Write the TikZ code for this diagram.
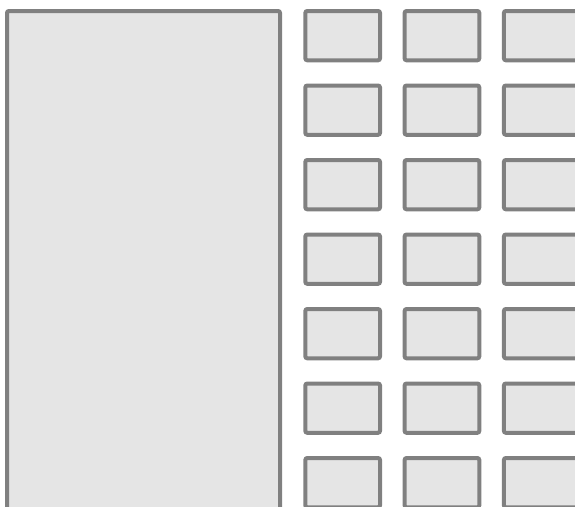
\documentclass[tikz,border=0pt]{standalone}
\definecolor{boxfill}{HTML}{E5E5E5}
\definecolor{boxline}{HTML}{808080}
\tikzset{panel/.style={draw=boxline,fill=boxfill,line width=4pt,rounded corners=2pt}}
\begin{document}
\begin{tikzpicture}[x=1pt,y=-1pt]
\useasboundingbox (0,0) rectangle (575,506);
\clip (0,0) rectangle (575,506);
\draw[panel] (7,11) rectangle (280,530);
\foreach \i in {0,1,2}{
  \foreach \j in {0,...,6}{
    \draw[panel] ({305.3+99.3*\i},{11+74.5*\j}) rectangle ++(74.7,49.3);
  }
}
\end{tikzpicture}
\end{document}
